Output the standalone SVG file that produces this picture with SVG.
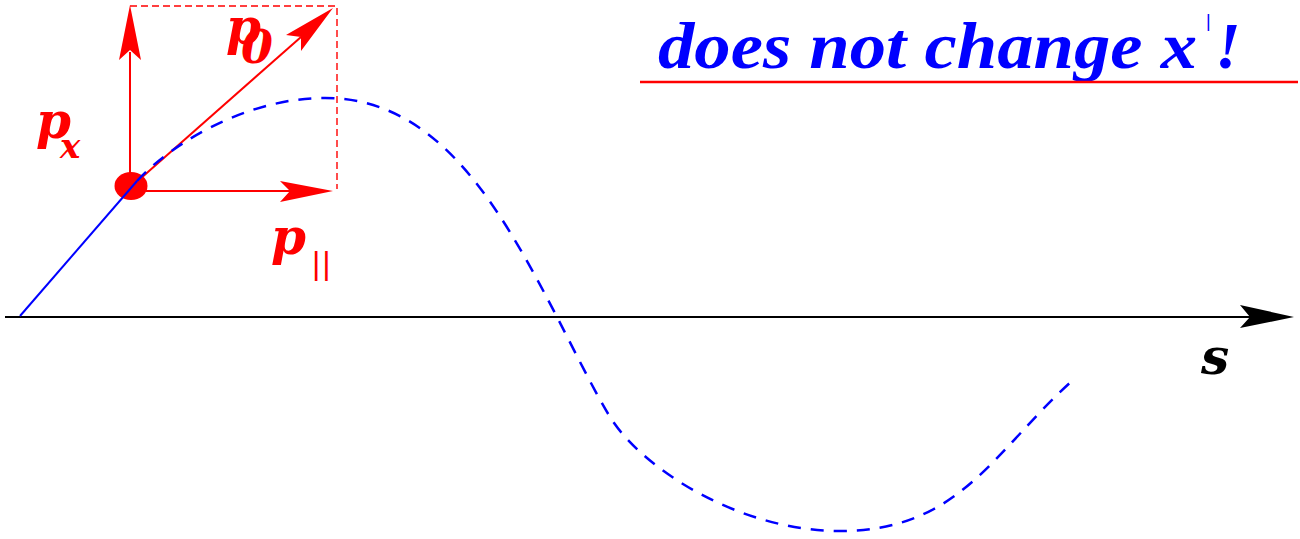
<svg xmlns="http://www.w3.org/2000/svg" width="1300" height="539" viewBox="0 0 1300 539">
<style>
.red{stroke:#ff0000;stroke-width:2;fill:none}
.reddash{stroke:#ff0000;stroke-width:1.4;fill:none;stroke-dasharray:7 4}
.blue{stroke:#0000ff;stroke-width:2;fill:none}
.bluedash{stroke:#0000ff;stroke-width:2.5;fill:none;stroke-dasharray:13 10}
.lbl{font-family:"DejaVu Serif","Liberation Serif",serif;font-weight:bold;font-style:italic}
.ttl{font-family:"Liberation Serif","DejaVu Serif",serif;font-weight:bold;font-style:italic}
</style>
<rect width="1300" height="539" fill="#ffffff"/>
<g id="axis">
<line x1="5" y1="317" x2="1252" y2="317" stroke="#000" stroke-width="2"/>
<polygon points="1294,317 1240,305 1250,317 1240,328" fill="#000"/>
</g>
<g id="box">
<path class="reddash" d="M130,6 H337 V189"/>
</g>
<g id="connectors">
<line class="red" x1="130" y1="186" x2="130" y2="52"/>
<polygon points="130,5 141,60 130,50 119,60" fill="#ff0000"/>
<line class="red" x1="146" y1="191" x2="290" y2="191"/>
<polygon points="333,191 280,202 290,191 280,181" fill="#ff0000"/>
<line class="red" x1="140" y1="179" x2="301" y2="37"/>
<polygon points="333,8 301,51 301,37 286,35" fill="#ff0000"/>
</g>
<g id="particle">
<ellipse cx="131" cy="186" rx="16.5" ry="14" fill="#ff0000"/>
</g>
<g id="trajectory">
<path class="blue" d="M20,316 L137,181"/>
<path class="bluedash" d="M137,181 C165,150 240,98 325,98 C436,98 497,201 557,317 C567,336 598,399 612,420 C645,470 740,531 840,531 C960,531 993,452 1073,380"/>
</g>
<g id="labels" fill="#ff0000">
<text class="lbl" x="36" y="138" font-size="50">p</text>
<text class="lbl" x="60" y="158" font-size="34">x</text>
<text class="lbl" x="226" y="44" font-size="50">p</text>
<text class="lbl" x="241" y="63" font-size="46">0</text>
<text class="lbl" x="271" y="254" font-size="50">p</text>
<text x="312" y="274" font-family="Liberation Sans, sans-serif" font-size="32" letter-spacing="2">||</text>
</g>
<g id="s-label">
<text class="lbl" x="1201" y="374" font-size="50" fill="#000">s</text>
</g>
<g id="title">
<text class="ttl" x="658" y="68" font-size="66" fill="#0000ff" textLength="539" lengthAdjust="spacingAndGlyphs">does not change x</text>
<text x="1206" y="27" font-family="Liberation Sans, sans-serif" font-size="18" fill="#0000ff">|</text>
<text class="ttl" x="1215" y="68" font-size="66" fill="#0000ff">!</text>
<line x1="640" y1="82" x2="1298" y2="82" stroke="#ff0000" stroke-width="2.5"/>
</g>
</svg>
